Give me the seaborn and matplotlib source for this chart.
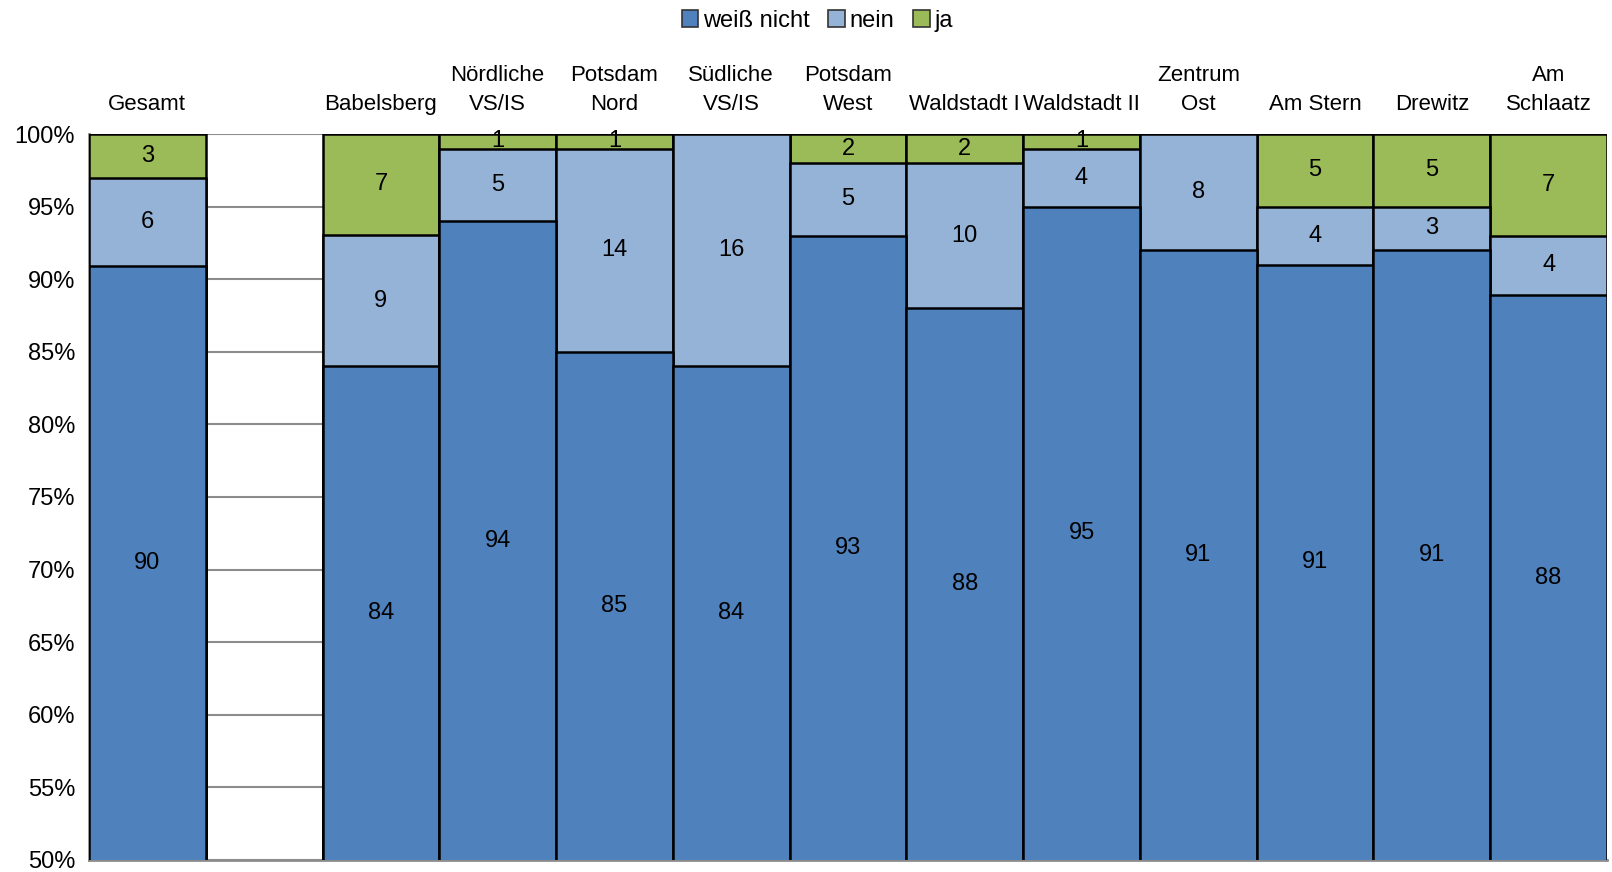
import numpy as np
import pandas as pd
import matplotlib
matplotlib.use("Agg")
import matplotlib.pyplot as plt
import matplotlib.transforms as mtransforms
from matplotlib.patches import Patch
import seaborn as sns

# categories (blank slot after "Gesamt")
categories = ["Gesamt", "", "Babelsberg", "Nördliche\nVS/IS", "Potsdam\nNord",
              "Südliche\nVS/IS", "Potsdam\nWest", "Waldstadt I", "Waldstadt II",
              "Zentrum\nOst", "Am Stern", "Drewitz", "Am\nSchlaatz"]

# bar heights (percent); NaN = blank slot
weiss = [90.9, np.nan, 84.0, 94.0, 85.0, 84.0, 93.0, 88.0, 95.0, 92.0, 91.0, 92.0, 88.9]
nein = [6.05, np.nan, 9.05, 5.0, 14.0, 16.0, 5.0, 10.0, 4.0, 8.0, 4.0, 3.0, 4.1]
ja = [3.05, np.nan, 6.95, 1.0, 1.0, 0.0, 2.0, 2.0, 1.0, 0.0, 5.0, 5.0, 7.0]

# printed labels
weiss_lbl = ["90", "", "84", "94", "85", "84", "93", "88", "95", "91", "91", "91", "88"]
nein_lbl = ["6", "", "9", "5", "14", "16", "5", "10", "4", "8", "4", "3", "4"]
ja_lbl = ["3", "", "7", "1", "1", "", "2", "2", "1", "", "5", "5", "7"]

series = ["weiß nicht", "nein", "ja"]
colors = ["#4F81BD", "#95B3D7", "#9BBB59"]

df = pd.DataFrame({"cat": categories, "weiss": weiss, "nein": nein, "ja": ja})
df["c1"] = df["weiss"]
df["c2"] = df["weiss"] + df["nein"]
df["c3"] = df["c2"] + df["ja"]

sns.set_style("white")
plt.rcParams["font.family"] = ["Liberation Sans Narrow", "Liberation Sans", "DejaVu Sans"]
plt.rcParams["text.color"] = "black"
plt.rcParams["ytick.labelcolor"] = "black"

fig = plt.figure(figsize=(16.12, 8.72), dpi=100)
ax = fig.add_axes([0.0552, 0.0138, 0.9417, 0.8325])

plot_df = df.dropna(subset=["weiss"])
for col, c in zip(["c3", "c2", "c1"], colors[::-1]):
    sns.barplot(data=plot_df, x="cat", y=col, order=categories, color=c,
                width=1.0, edgecolor="black", linewidth=1.8, errorbar=None,
                saturation=1, ax=ax, zorder=3)

ax.set_ylim(50, 100)
ax.set_xlim(-0.5, len(categories) - 0.5)
ax.set_yticks(np.arange(50, 101, 5))
ax.set_yticklabels([f"{v}%" for v in range(50, 101, 5)], fontsize=17)
ax.yaxis.grid(True, color="#8c8c8c", linewidth=1.5, zorder=0)
ax.set_axisbelow(True)
ax.set_xlabel("")
ax.set_ylabel("")

# x ticks at category boundaries, no labels
ax.set_xticks(np.arange(-0.5, len(categories), 1.0))
ax.set_xticklabels([])
ax.tick_params(axis="x", direction="out", length=6, width=1.5, color="#8c8c8c")
ax.tick_params(axis="y", direction="out", length=6, width=1.5, color="#8c8c8c", pad=4)
for s in ["top", "right"]:
    ax.spines[s].set_visible(False)
for s in ["left", "bottom"]:
    ax.spines[s].set_color("#8c8c8c")
    ax.spines[s].set_linewidth(2)

# category labels above the plot
trans = mtransforms.blended_transform_factory(ax.transData, ax.transAxes)
for i, name in enumerate(categories):
    ax.text(i, 1.026, name, transform=trans, ha="center", va="bottom",
            fontsize=16, linespacing=1.5)

# segment labels
for i in range(len(categories)):
    if np.isnan(weiss[i]):
        continue
    b0 = 50
    t1 = weiss[i]
    t2 = weiss[i] + nein[i]
    t3 = t2 + ja[i]
    for lbl, lo, hi in [(weiss_lbl[i], b0, t1), (nein_lbl[i], t1, t2), (ja_lbl[i], t2, t3)]:
        if lbl:
            ax.text(i, (lo + hi) / 2, lbl, ha="center", va="center",
                    fontsize=17, zorder=5)

handles = [Patch(facecolor=c, edgecolor="#333333", linewidth=1.2) for c in colors]
fig.legend(handles, series, loc="upper center", bbox_to_anchor=(0.507, 1.013),
           ncol=3, frameon=False, fontsize=17, handlelength=0.7, handleheight=0.7,
           handletextpad=0.2, columnspacing=0.8)

fig.savefig("out.png", dpi=100)
